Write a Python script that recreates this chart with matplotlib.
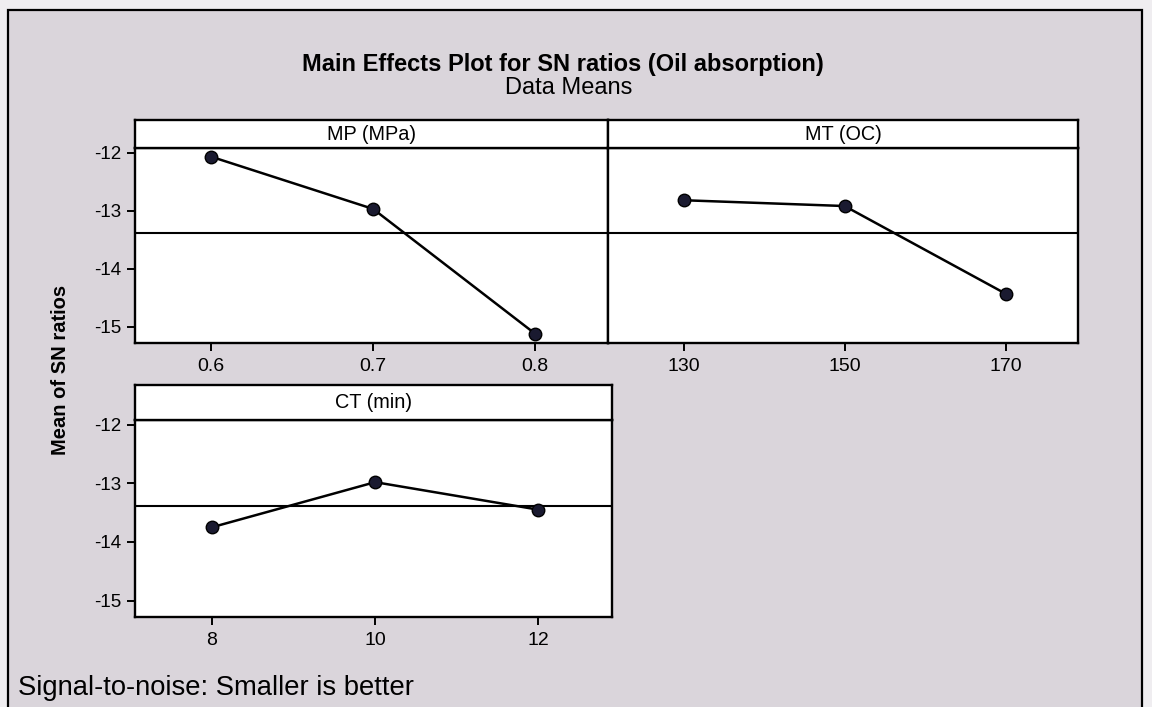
import matplotlib
matplotlib.use("Agg")
import matplotlib.pyplot as plt
from matplotlib.patches import Rectangle

plt.rcParams['font.family'] = ['Liberation Sans', 'DejaVu Sans']

# factor levels and mean SN ratios
mp_levels = [0.6, 0.7, 0.8]
mp_means = [-12.07, -12.97, -15.12]
mt_levels = [130, 150, 170]
mt_means = [-12.82, -12.92, -14.43]
ct_levels = [8, 10, 12]
ct_means = [-13.75, -12.98, -13.45]
overall_mean = -13.39

y_ticks = [-12, -13, -14, -15]
y_range = (-15.28, -11.92)

W, H = 1152, 707
fig = plt.figure(figsize=(W / 100, H / 100), dpi=100)
fig.patch.set_facecolor('#efedf0')
fig.patches.append(Rectangle((8 / W, -0.01), (1142 - 8) / W, 1 - 10 / H + 0.01,
                             transform=fig.transFigure, facecolor='#dad5db',
                             edgecolor='black', linewidth=1.6, zorder=-5))


def fx(px):
    return px / W


def fy(py):
    return 1 - py / H


def panel(left, right, top, strip_h, bottom, title, levels, means, show_y):
    ax = fig.add_axes([fx(left), fy(bottom), fx(right - left), fy(top) - fy(bottom)])
    ax.set_facecolor('white')
    ax.plot(levels, means, color='black', lw=1.8, marker='o', ms=9,
            markerfacecolor='#1a1a30', markeredgecolor='black', zorder=3)
    ax.axhline(overall_mean, color='black', lw=1.5, zorder=2)
    step = levels[1] - levels[0]
    ax.set_xlim(levels[0] - 0.47 * step, levels[-1] + 0.45 * step)
    ax.set_ylim(*y_range)
    ax.set_xticks(levels)
    ax.set_xticklabels([str(v) for v in levels])
    ax.set_yticks(y_ticks)
    ax.set_yticklabels([str(v) for v in y_ticks])
    ax.tick_params(axis='both', direction='out', length=6, width=1.4,
                   labelsize=14, colors='black')
    ax.tick_params(axis='x', pad=5)
    ax.tick_params(axis='y', pad=4, labelsize=13.5)
    if not show_y:
        ax.tick_params(axis='y', left=False, labelleft=False)
    for s in ax.spines.values():
        s.set_linewidth(1.7)
    # strip with the factor name on top of the panel
    st = fig.add_axes([fx(left), fy(top), fx(right - left), fy(top - strip_h) - fy(top)])
    st.set_facecolor('white')
    st.set_xticks([])
    st.set_yticks([])
    for s in st.spines.values():
        s.set_linewidth(1.7)
    st.text(0.5, 0.5, title, ha='center', va='center', fontsize=14.3,
            transform=st.transAxes)
    return ax


panel(135, 608, 148, 28, 343, 'MP (MPa)', mp_levels, mp_means, True)
panel(608, 1078, 148, 28, 343, 'MT (OC)', mt_levels, mt_means, False)
panel(135, 612, 420, 35, 617, 'CT (min)', ct_levels, ct_means, True)

fig.text(fx(563), fy(65), 'Main Effects Plot for SN ratios (Oil absorption)',
         ha='center', va='center', fontsize=17, fontweight='bold')
fig.text(fx(569), fy(88), 'Data Means', ha='center', va='center', fontsize=17)
fig.text(fx(60), fy(370), 'Mean of SN ratios', ha='center', va='center',
         rotation=90, fontsize=14.5, fontweight='bold')
fig.text(fx(18), fy(688), 'Signal-to-noise: Smaller is better', ha='left',
         va='center', fontsize=19.7)

fig.savefig('out.png', dpi=100, facecolor=fig.get_facecolor())
